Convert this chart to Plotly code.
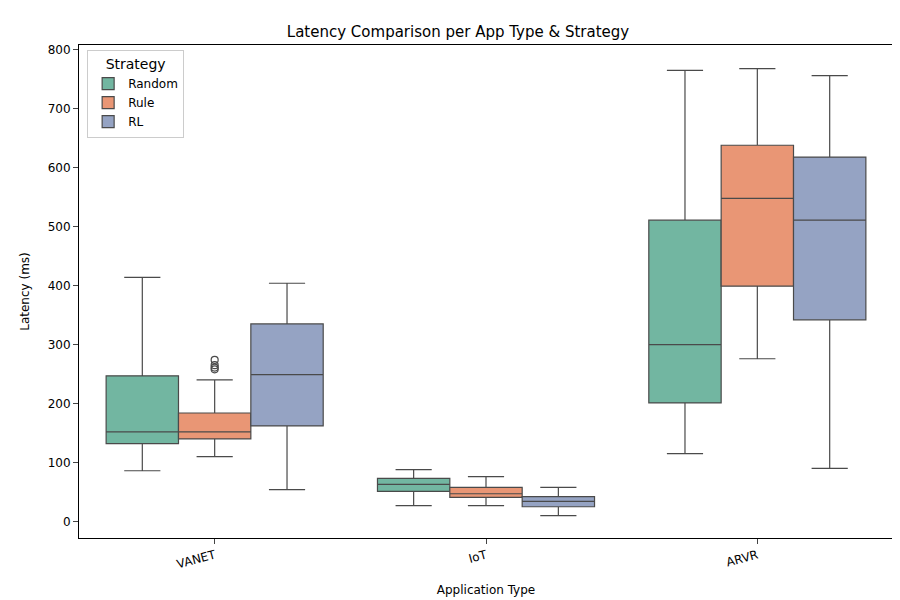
import plotly.graph_objects as go

apps = ["VANET", "IoT", "ARVR"]
strategies = ["Random", "Rule", "RL"]
colors = ["#72b6a1", "#e99675", "#95a3c3"]

lower = {"Random": [86, 27, 115], "Rule": [110, 27, 276], "RL": [54, 10, 90]}
q1 = {"Random": [132, 51, 201], "Rule": [140, 41, 399], "RL": [162, 25, 342]}
median = {"Random": [152, 63, 300], "Rule": [152, 47, 548], "RL": [249, 34, 511]}
q3 = {"Random": [247, 73, 511], "Rule": [184, 58, 638], "RL": [335, 42, 618]}
upper = {"Random": [414, 88, 765], "Rule": [240, 76, 768], "RL": [404, 58, 756]}
outliers_rule_vanet = [274, 265, 261, 258]

w = 0.8 / 3
fig = go.Figure()
for k, s in enumerate(strategies):
    off = (k - 1) * w
    fig.add_trace(go.Box(
        x=[i + off for i in range(len(apps))],
        q1=q1[s], median=median[s], q3=q3[s],
        lowerfence=lower[s], upperfence=upper[s],
        width=w, name=s, fillcolor=colors[k],
        line=dict(color="#4a4a4a", width=1.2), whiskerwidth=0.5,
        boxpoints=False, legendgroup=s))
fig.add_trace(go.Scatter(
    x=[0] * len(outliers_rule_vanet), y=outliers_rule_vanet, mode="markers",
    marker=dict(symbol="circle-open", size=7, color="#4a4a4a", line=dict(width=1.2)),
    showlegend=False))

fig.update_layout(
    width=900, height=600, paper_bgcolor="white", plot_bgcolor="white",
    margin=dict(l=71, r=15, t=37, b=70, pad=0),
    font=dict(family="DejaVu Sans", size=12, color="black"),
    title=dict(text="Latency Comparison per App Type & Strategy", x=0.5, xanchor="center",
               y=0.96, yanchor="middle", font=dict(size=15)),
    legend=dict(title=dict(text="Strategy", side="top center"), x=0.01, y=0.99, xanchor="left", yanchor="top",
                bordercolor="#cccccc", borderwidth=1, bgcolor="white", tracegroupgap=0),
    xaxis=dict(range=[-0.5, 2.5], tickvals=[0, 1, 2], ticktext=apps, tickangle=-15,
               title=dict(text="Application Type", font=dict(size=12)), showgrid=False, zeroline=False,
               showline=True, mirror=True, linecolor="black", ticks="outside", automargin=False),
    yaxis=dict(range=[-28, 808], dtick=100, title=dict(text="Latency (ms)", font=dict(size=12)),
               showgrid=False, zeroline=False, showline=True, mirror=True, linecolor="black",
               ticks="outside", automargin=False),
)
fig.write_html("out.html")
